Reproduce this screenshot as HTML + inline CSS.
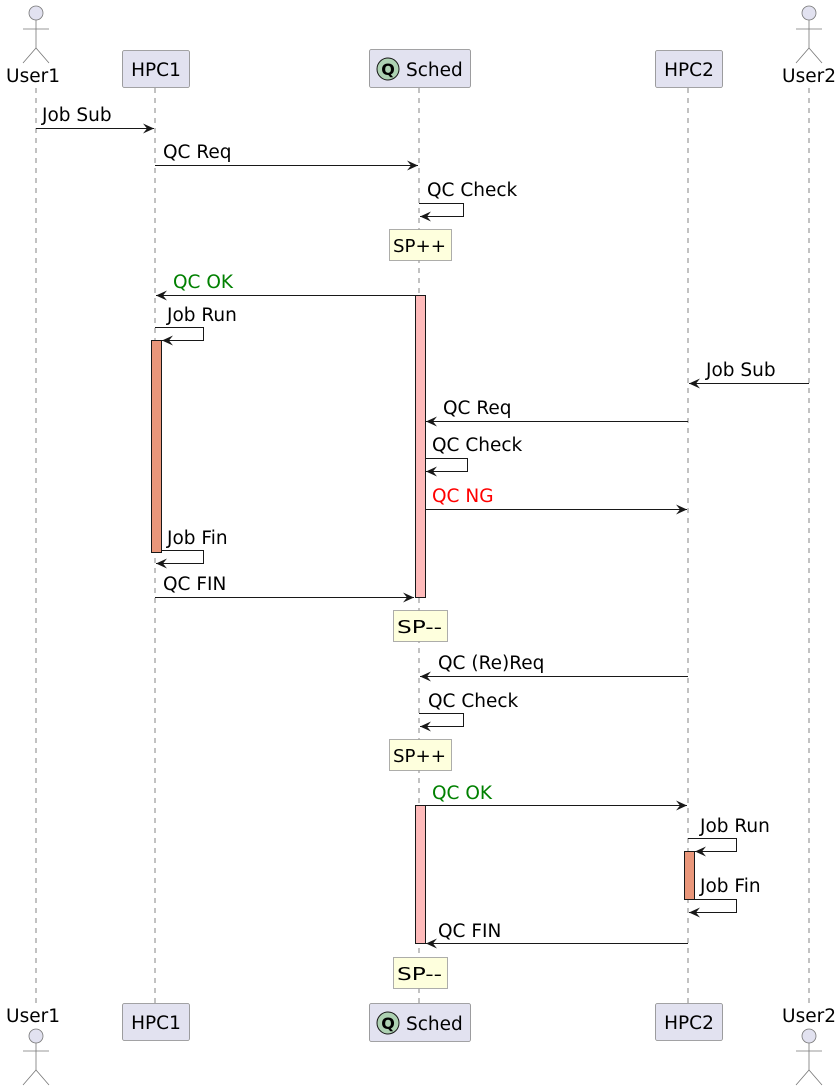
<!DOCTYPE html>
<html><head><meta charset="utf-8"><style>
html,body{margin:0;padding:0;background:#fff;}
svg{display:block;font-family:"DejaVu Sans","Liberation Sans",sans-serif;}
</style></head><body>
<svg width="840" height="1091" viewBox="0 0 840 1091" xmlns="http://www.w3.org/2000/svg">
<defs>
<marker id="a" markerUnits="userSpaceOnUse" markerWidth="14" markerHeight="12" refX="11" refY="5" orient="auto">
<path d="M0,0 L11,5 L0,10 L4,5 Z" fill="#181818"/>
</marker>
</defs>
<g stroke="#666" stroke-width="0.8" stroke-dasharray="5,5">
<line x1="36" y1="88" x2="36" y2="1003"/>
<line x1="155" y1="88" x2="155" y2="1003"/>
<line x1="419" y1="88" x2="419" y2="1003"/>
<line x1="688" y1="88" x2="688" y2="1003"/>
<line x1="809" y1="88" x2="809" y2="1003"/>
</g>
<g stroke="#777" stroke-width="0.8" fill="#E2E2F0">
<circle cx="36" cy="13" r="7"/>
<line x1="36" y1="20" x2="36" y2="48"/><line x1="23" y1="29" x2="49" y2="29"/>
<polyline points="23,63 36,48 49,63" fill="none"/>
<circle cx="809" cy="13" r="7"/>
<line x1="809" y1="20" x2="809" y2="48"/><line x1="796" y1="29" x2="822" y2="29"/>
<polyline points="796,63 809,48 822,63" fill="none"/>
<circle cx="36" cy="1036" r="7"/>
<line x1="36" y1="1043" x2="36" y2="1070"/><line x1="23" y1="1051" x2="49" y2="1051"/>
<polyline points="23,1085 36,1070 49,1085" fill="none"/>
<circle cx="809" cy="1036" r="7"/>
<line x1="809" y1="1043" x2="809" y2="1070"/><line x1="796" y1="1051" x2="822" y2="1051"/>
<polyline points="796,1085 809,1070 822,1085" fill="none"/>
</g>
<g font-size="18.5" fill="#000" text-anchor="middle">
<text x="33" y="82">User1</text><text x="809" y="82">User2</text>
<text x="33" y="1022">User1</text><text x="809" y="1022">User2</text>
</g>
<g fill="#E2E2F0" stroke="#888" stroke-width="0.8">
<rect x="122.5" y="50.5" width="67" height="37" rx="2"/>
<rect x="369.5" y="49.5" width="101" height="38" rx="2"/>
<rect x="655.5" y="50.5" width="67" height="37" rx="2"/>
<rect x="122.5" y="1003.5" width="67" height="37" rx="2"/>
<rect x="369.5" y="1003.5" width="101" height="38" rx="2"/>
<rect x="655.5" y="1003.5" width="67" height="37" rx="2"/>
</g>
<g fill="#ADD1B2" stroke="#181818" stroke-width="1">
<circle cx="388" cy="69" r="11"/><circle cx="388" cy="1023" r="11"/>
</g>
<g font-size="18.5" fill="#000">
<text x="156" y="76" text-anchor="middle">HPC1</text>
<text x="689" y="76" text-anchor="middle">HPC2</text>
<text x="156" y="1029" text-anchor="middle">HPC1</text>
<text x="689" y="1029" text-anchor="middle">HPC2</text>
<text x="406" y="76">Sched</text>
<text x="406" y="1030">Sched</text>
<text x="388" y="75" font-size="16" font-weight="bold" text-anchor="middle">Q</text>
<text x="388" y="1029" font-size="16" font-weight="bold" text-anchor="middle">Q</text>
</g>
<g stroke="#181818" stroke-width="1">
<rect x="415.5" y="295.5" width="10" height="302" fill="#FFBBBB"/>
<rect x="151.5" y="340.5" width="10" height="212" fill="#E9967A"/>
<rect x="415.5" y="805.5" width="10" height="138" fill="#FFBBBB"/>
<rect x="684.5" y="851.5" width="10" height="48" fill="#E9967A"/>
</g>
<g fill="#FEFFDD" stroke="#999" stroke-width="0.8">
<rect x="389.5" y="229.5" width="62" height="31"/>
<rect x="393.5" y="610.5" width="54" height="31"/>
<rect x="389.5" y="739.5" width="62" height="31"/>
<rect x="393.5" y="957.5" width="54" height="31"/>
</g>
<g font-size="18" fill="#000">
<text x="393" y="252" textLength="53" lengthAdjust="spacingAndGlyphs">SP++</text>
<text x="397" y="633" textLength="45" lengthAdjust="spacingAndGlyphs">SP--</text>
<text x="393" y="762" textLength="53" lengthAdjust="spacingAndGlyphs">SP++</text>
<text x="397" y="980" textLength="45" lengthAdjust="spacingAndGlyphs">SP--</text>
</g>
<g stroke="#181818" stroke-width="1" fill="none" marker-end="url(#a)">
<line x1="36" y1="128.5" x2="154" y2="128.5"/>
<line x1="155" y1="165.5" x2="418" y2="165.5"/>
<polyline points="419,203.5 463.5,203.5 463.5,216.5 420,216.5"/>
<line x1="415" y1="295.5" x2="156" y2="295.5"/>
<polyline points="155,327.5 203.5,327.5 203.5,340.5 162,340.5"/>
<line x1="809" y1="383.5" x2="689" y2="383.5"/>
<line x1="688" y1="421.5" x2="426" y2="421.5"/>
<polyline points="425,458.5 467.5,458.5 467.5,471.5 426,471.5"/>
<line x1="425" y1="509.5" x2="687" y2="509.5"/>
<polyline points="161,550.5 203.5,550.5 203.5,563.5 156,563.5"/>
<line x1="155" y1="597.5" x2="414" y2="597.5"/>
<line x1="688" y1="676.5" x2="420" y2="676.5"/>
<polyline points="419,713.5 463.5,713.5 463.5,726.5 420,726.5"/>
<line x1="425" y1="805.5" x2="687" y2="805.5"/>
<polyline points="688,838.5 736.5,838.5 736.5,851.5 695,851.5"/>
<polyline points="694,899.5 736.5,899.5 736.5,912.5 689,912.5"/>
<line x1="688" y1="943.5" x2="426" y2="943.5"/>
</g>
<g font-size="18.5" fill="#000">
<text x="42" y="121">Job Sub</text>
<text x="163" y="158">QC Req</text>
<text x="427" y="196">QC Check</text>
<text x="173" y="288" fill="#008000">QC OK</text>
<text x="167" y="321">Job Run</text>
<text x="706" y="376">Job Sub</text>
<text x="443" y="414">QC Req</text>
<text x="432" y="451">QC Check</text>
<text x="432" y="502" fill="#FF0000">QC NG</text>
<text x="167" y="544">Job Fin</text>
<text x="163" y="590">QC FIN</text>
<text x="438" y="669">QC (Re)Req</text>
<text x="428" y="707">QC Check</text>
<text x="432" y="799" fill="#008000">QC OK</text>
<text x="700" y="832">Job Run</text>
<text x="700" y="892">Job Fin</text>
<text x="438" y="937">QC FIN</text>
</g>
</svg>
</body></html>
